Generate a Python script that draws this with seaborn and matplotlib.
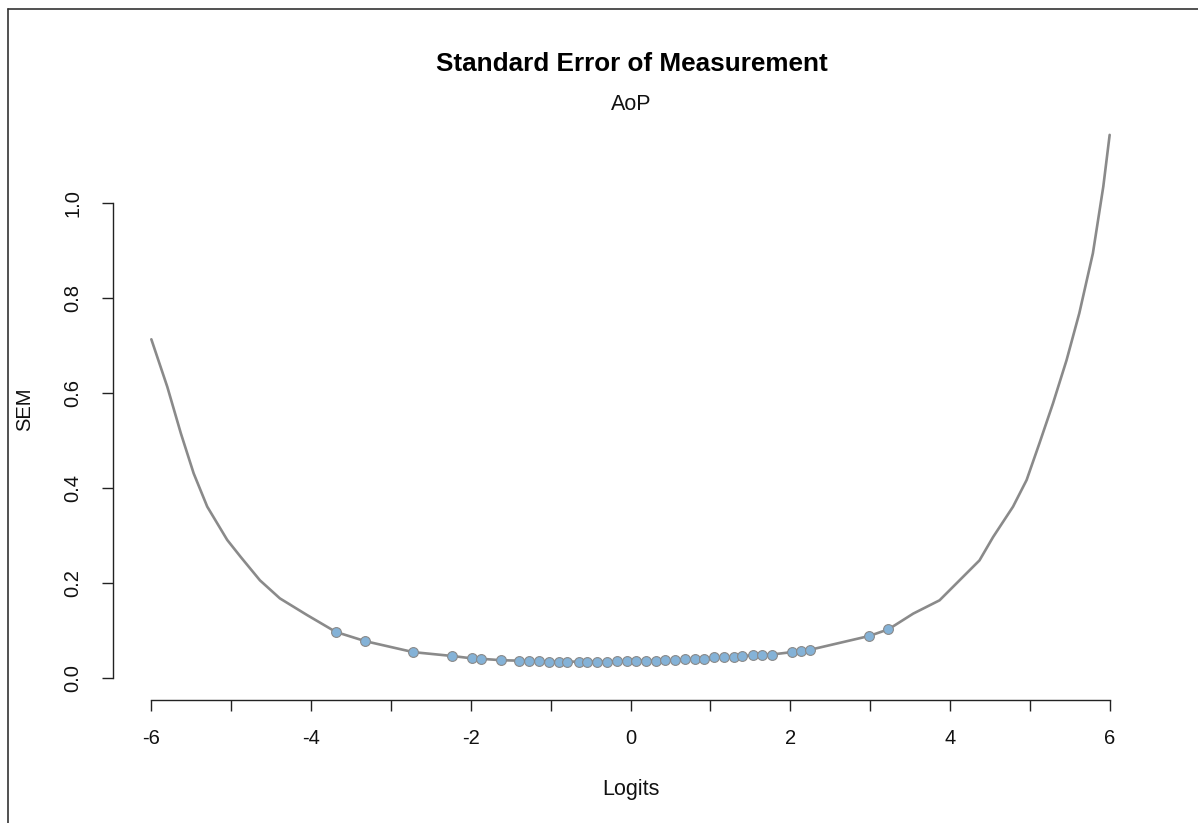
import numpy as np
import pandas as pd
import seaborn as sns
import matplotlib
matplotlib.use("Agg")
import matplotlib.pyplot as plt
from matplotlib.lines import Line2D

# values
# SEM curve tails (the middle of the curve runs through the item points)
left_logits = [-6.0, -5.8, -5.63, -5.47, -5.3, -5.05, -4.88, -4.64, -4.39, -4.05]
left_sem = [0.713, 0.613, 0.515, 0.431, 0.361, 0.291, 0.255, 0.206, 0.168, 0.133]
right_logits = [3.54, 3.87, 4.12, 4.37, 4.54, 4.79, 4.96, 5.12, 5.29, 5.46, 5.62, 5.79, 5.92, 6.0]
right_sem = [0.136, 0.164, 0.206, 0.248, 0.297, 0.361, 0.417, 0.494, 0.578, 0.669, 0.768, 0.894, 1.034, 1.143]

# item locations on the curve
item_logits = [-3.69, -3.32, -2.72, -2.24, -1.99, -1.87, -1.62, -1.39, -1.27, -1.14,
               -1.02, -0.90, -0.79, -0.65, -0.54, -0.42, -0.29, -0.17, -0.05, 0.065,
               0.20, 0.32, 0.435, 0.557, 0.686, 0.807, 0.92, 1.04, 1.17, 1.29,
               1.40, 1.54, 1.65, 1.77, 2.02, 2.14, 2.25, 2.99, 3.23]
item_sem = [0.0975, 0.078, 0.055, 0.047, 0.042, 0.041, 0.038, 0.037, 0.036, 0.036,
            0.035, 0.035, 0.035, 0.035, 0.035, 0.035, 0.035, 0.036, 0.036, 0.037,
            0.037, 0.037, 0.038, 0.038, 0.040, 0.041, 0.041, 0.044, 0.045, 0.045,
            0.047, 0.048, 0.050, 0.050, 0.055, 0.058, 0.060, 0.089, 0.103]

x_ticks = list(range(-6, 7))
x_ticklabels = [str(t) if t % 2 == 0 else "" for t in x_ticks]
y_ticks = [0.0, 0.2, 0.4, 0.6, 0.8, 1.0]
y_ticklabels = ["0.0", "0.2", "0.4", "0.6", "0.8", "1.0"]

curve = pd.DataFrame({
    "Logits": left_logits + item_logits + right_logits,
    "SEM": left_sem + item_sem + right_sem,
})
items = pd.DataFrame({"Logits": item_logits, "SEM": item_sem})

sns.set_style("ticks")
plt.rcParams["font.family"] = ["Liberation Sans", "DejaVu Sans"]
plt.rcParams["axes.unicode_minus"] = False

W, H = 1198, 823
fig = plt.figure(figsize=(W / 100, H / 100), dpi=100)
ax = fig.add_axes([113 / W, 1 - 700 / H, (1148 - 113) / W, (700 - 113) / H])

sns.lineplot(data=curve, x="Logits", y="SEM", ax=ax, color="#8a8a8a",
             linewidth=1.9, sort=True, estimator=None)
sns.scatterplot(data=items, x="Logits", y="SEM", ax=ax, color="#84b2d7",
                edgecolor="#8a8a8a", linewidth=0.8, s=50, zorder=3)

ax.set_xlim(-6.48, 6.48)
ax.set_ylim(-0.0457, 1.189)
sns.despine(ax=ax)
ax.spines["left"].set_bounds(0, 1)
ax.spines["bottom"].set_bounds(-6, 6)
for sp in ("left", "bottom"):
    ax.spines[sp].set_color("#222222")
    ax.spines[sp].set_linewidth(1.0)

ax.set_xticks(x_ticks)
ax.set_xticklabels(x_ticklabels)
ax.set_yticks(y_ticks)
ax.set_yticklabels(y_ticklabels, rotation=90, va="center")
ax.tick_params(axis="both", direction="out", length=8, width=1.0,
               color="#222222", labelsize=14.5, labelcolor="#111111")
ax.tick_params(axis="x", pad=13)
ax.tick_params(axis="y", pad=14)

ax.set_xlabel("")
ax.set_ylabel("")
fig.text(631 / W, 1 - 790 / H, "Logits", ha="center", va="center",
         fontsize=15.5, color="#111111")
fig.text(25 / W, 1 - 409 / H, "SEM", ha="center", va="center",
         rotation=90, fontsize=14.5, color="#111111")
fig.text(632 / W, 1 - 64 / H, "Standard Error of Measurement", ha="center",
         va="center", fontsize=18.8, fontweight="bold", color="#000000")
fig.text(631 / W, 1 - 104 / H, "AoP", ha="center", va="center",
         fontsize=15.5, color="#111111")

# screenshot frame along the top and left edges
fig.add_artist(Line2D([8 / W, 8 / W], [0, 1 - 9 / H], transform=fig.transFigure,
                      color="#333333", linewidth=1.2))
fig.add_artist(Line2D([8 / W, 1], [1 - 9 / H, 1 - 9 / H], transform=fig.transFigure,
                      color="#333333", linewidth=1.2))

fig.savefig("out.png", dpi=100)
